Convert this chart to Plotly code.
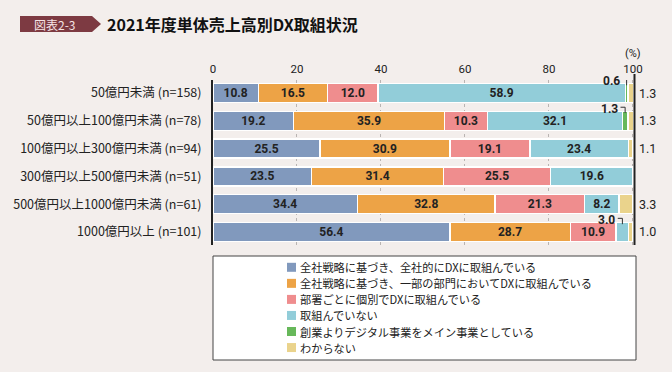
import plotly.graph_objects as go

# ---------------- data ----------------
categories = [
    "50億円未満 (n=158)",
    "50億円以上100億円未満 (n=78)",
    "100億円以上300億円未満 (n=94)",
    "300億円以上500億円未満 (n=51)",
    "500億円以上1000億円未満 (n=61)",
    "1000億円以上 (n=101)",
]
series_names = [
    "全社戦略に基づき、全社的にDXに取組んでいる",
    "全社戦略に基づき、一部の部門においてDXに取組んでいる",
    "部署ごとに個別でDXに取組んでいる",
    "取組んでいない",
    "創業よりデジタル事業をメイン事業としている",
    "わからない",
]
s_company_wide = [10.8, 19.2, 25.5, 23.5, 34.4, 56.4]
s_partial = [16.5, 35.9, 30.9, 31.4, 32.8, 28.7]
s_department = [12.0, 10.3, 19.1, 25.5, 21.3, 10.9]
s_none = [58.9, 32.1, 23.4, 19.6, 8.2, 3.0]
s_digital = [0.6, 1.3, 0.0, 0.0, 0.0, 0.0]
s_unknown = [1.3, 1.3, 1.1, 0.0, 3.3, 1.0]
x_ticks = [0, 20, 40, 60, 80, 100]

series_values = [s_company_wide, s_partial, s_department, s_none, s_digital, s_unknown]
colors = ["#8199bd", "#eda346", "#ef8d8e", "#92cdd9", "#67b85a", "#ead38c"]
BG = "#f3eeec"

# ---------------- geometry helpers (pixel -> paper) ----------------
W, H = 672, 372
PL, PR, PT, PB = 213, 635, 80, 245   # plot area in pixels
ML, MR, MT, MB = PL, W - PR, PT, H - PB
PW, PH = W - ML - MR, H - MT - MB


def pxx(px):
    return (px - PL) / PW


def pxy(py):
    return (PB - py) / PH


FONT_JP = "Noto Sans CJK JP, Noto Sans, sans-serif"
FONT_NUM = "Liberation Sans Narrow, Roboto, Noto Sans CJK JP, sans-serif"
TXT = "#222222"
rows = list(range(len(categories)))
BAR_W = 0.68

fig = go.Figure()
for k, (name, vals, col) in enumerate(zip(series_names, series_values, colors)):
    xs = [v if v > 0 else None for v in vals]
    texts = [f"{v:.1f}" if (v >= 5 and k < 4) else "" for v in vals]
    fig.add_trace(go.Bar(
        y=rows, x=xs, name=name, orientation="h", width=BAR_W,
        marker=dict(color=col, line=dict(color="white", width=1.5)),
        text=texts, textposition="inside", insidetextanchor="middle",
        textangle=0, constraintext="none",
        insidetextfont=dict(family=FONT_NUM, size=12, color=TXT, weight="bold"),
        showlegend=False, hoverinfo="skip",
    ))

shapes = []
annotations = []

# right-hand axis line at 100%
shapes.append(dict(type="line", xref="paper", yref="paper",
                   x0=pxx(634.5), x1=pxx(634.5), y0=0, y1=pxy(74),
                   line=dict(color="#222", width=2)))

# callouts for small segments (green all, light blue < 5)
for i in rows:
    cum = 0.0
    for k, vals in enumerate(series_values):
        v = vals[i]
        start = cum
        cum += v
        if v <= 0:
            continue
        if (k == 4) or (k == 3 and v < 5):
            c = start + v / 2
            ly = i - 0.44
            shapes.append(dict(type="line", xref="x", yref="y",
                               x0=c - 1.1, x1=c, y0=ly - 0.05, y1=ly - 0.05,
                               line=dict(color="#333", width=1)))
            shapes.append(dict(type="line", xref="x", yref="y",
                               x0=c, x1=c, y0=ly - 0.05, y1=i - 0.28,
                               line=dict(color="#333", width=1)))
            annotations.append(dict(xref="x", yref="y", x=c - 1.2, y=ly,
                                    text=f"{v:.1f}", showarrow=False, xanchor="right",
                                    yanchor="middle",
                                    font=dict(family=FONT_NUM, size=12, color=TXT, weight="bold")))
    # unknown values to the right
    u = s_unknown[i]
    if u > 0:
        annotations.append(dict(xref="paper", yref="y", x=pxx(637), y=i,
                                text=f"{u:.1f}", showarrow=False, xanchor="left",
                                yanchor="middle",
                                font=dict(family=FONT_NUM, size=12.5, color=TXT)))

# (%) unit
annotations.append(dict(xref="paper", yref="paper", x=pxx(633), y=pxy(53),
                        text="(%)", showarrow=False, xanchor="center", yanchor="middle",
                        font=dict(family=FONT_NUM, size=11, color=TXT)))

# title block
tx0, tx1, tip = pxx(20), pxx(92), pxx(101)
ty0, ty1, tym = pxy(32), pxy(16), pxy(24)
shapes.append(dict(type="path", xref="paper", yref="paper",
                   path=f"M {tx0},{ty0} L {tx1},{ty0} L {tip},{tym} L {tx1},{ty1} L {tx0},{ty1} Z",
                   fillcolor="#7d3a42", line=dict(width=0)))
annotations.append(dict(xref="paper", yref="paper", x=pxx(54), y=tym,
                        text="図表2-3", showarrow=False, xanchor="center", yanchor="middle",
                        font=dict(family=FONT_JP, size=12, color="#f6e3e5")))
annotations.append(dict(xref="paper", yref="paper", x=pxx(105), y=tym,
                        text="<b>2021年度単体売上高別DX取組状況</b>", showarrow=False,
                        xanchor="left", yanchor="middle",
                        font=dict(family=FONT_JP, size=16, color="#111")))

# legend box (drawn)
shapes.append(dict(type="rect", xref="paper", yref="paper",
                   x0=pxx(213), x1=pxx(636), y0=pxy(360), y1=pxy(256),
                   fillcolor="white", line=dict(color="#444", width=1)))
for k, (name, col) in enumerate(zip(series_names, colors)):
    cy = 267.3 + 16.05 * k
    shapes.append(dict(type="rect", xref="paper", yref="paper",
                       x0=pxx(287), x1=pxx(296), y0=pxy(cy + 4.5), y1=pxy(cy - 4.5),
                       fillcolor=col, line=dict(width=0)))
    annotations.append(dict(xref="paper", yref="paper", x=pxx(298), y=pxy(cy),
                            text=name, showarrow=False, xanchor="left", yanchor="middle",
                            font=dict(family=FONT_JP, size=11.2, color=TXT)))

fig.update_layout(
    width=W, height=H,
    margin=dict(l=ML, r=MR, t=MT, b=MB, pad=0),
    paper_bgcolor=BG, plot_bgcolor="rgba(0,0,0,0)",
    barmode="stack", bargap=0.3,
    shapes=shapes, annotations=annotations,
    font=dict(family=FONT_JP, color=TXT),
)
fig.update_xaxes(
    side="top", range=[0, 100.5], tickvals=x_ticks, ticktext=[str(t) for t in x_ticks],
    showgrid=True, gridcolor="#b9b4b2", griddash="dot", gridwidth=1,
    zeroline=False, showline=False, ticks="",
    tickfont=dict(family=FONT_NUM, size=11.5, color=TXT), ticklabelstandoff=4,
)
fig.update_yaxes(
    range=[5.47, -0.47], tickvals=rows, ticktext=categories,
    showgrid=False, zeroline=False, showline=True, linecolor="#222", linewidth=2,
    ticks="", tickfont=dict(family=FONT_JP, size=12.5, color=TXT), ticklabelstandoff=7,
)

fig.write_html(
    "out.html",
    config={"displayModeBar": False},
    post_script=(f"document.body.style.margin='0';document.body.style.overflow='hidden';"
                 f"document.body.style.background='{BG}';"),
)
